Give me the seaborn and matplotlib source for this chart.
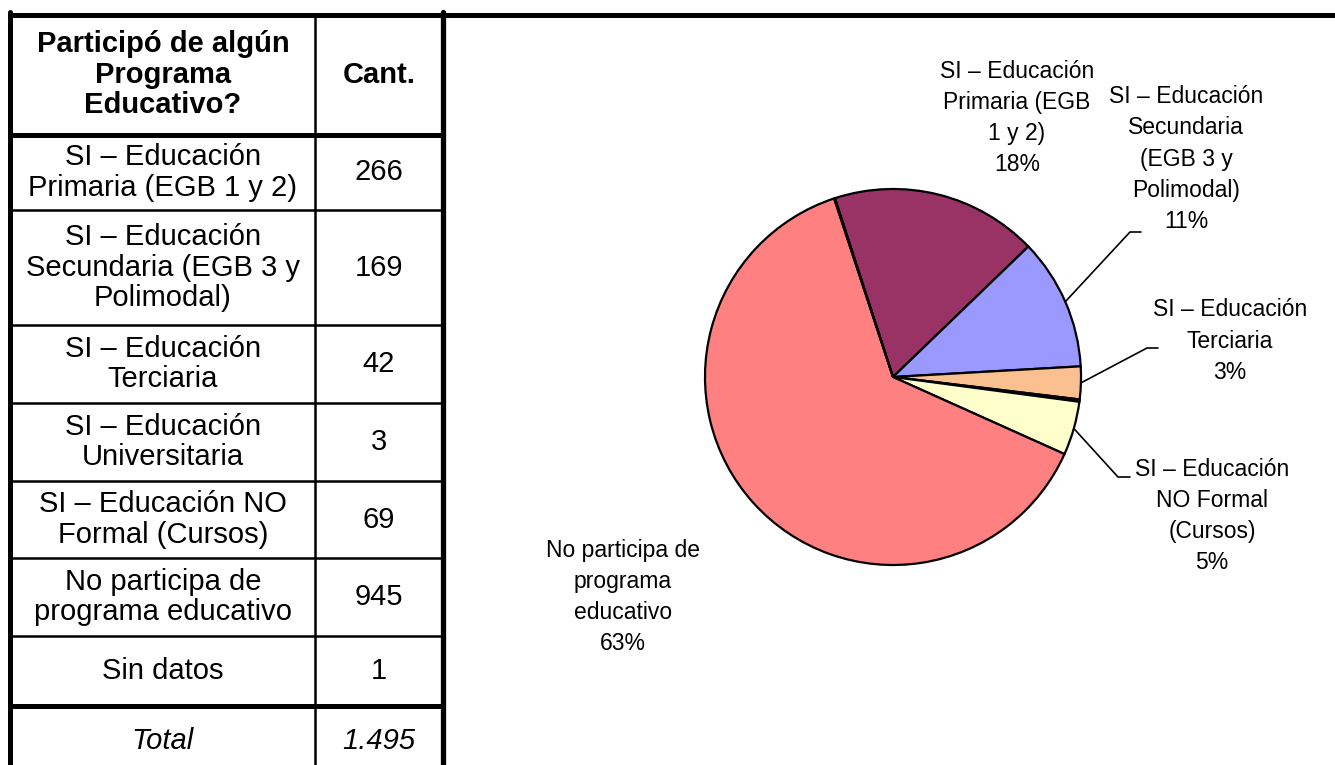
"""
Table + pie chart: participation in educational programmes.
"""

import matplotlib
matplotlib.use("Agg")
import numpy as np
import matplotlib.pyplot as plt
import seaborn as sns

# Data
table_labels = [
    "SI – Educación\nPrimaria (EGB 1 y 2)",
    "SI – Educación\nSecundaria (EGB 3 y\nPolimodal)",
    "SI – Educación\nTerciaria",
    "SI – Educación\nUniversitaria",
    "SI – Educación NO\nFormal (Cursos)",
    "No participa de\nprograma educativo",
    "Sin datos",
]
counts = [266, 169, 42, 3, 69, 945, 1]
pie_labels = [
    "SI – Educación\nPrimaria (EGB\n1 y 2)",
    "SI – Educación\nSecundaria\n(EGB 3 y\nPolimodal)",
    "SI – Educación\nTerciaria",
    None,
    "SI – Educación\nNO Formal\n(Cursos)",
    "No participa de\nprograma\neducativo",
    None,
]
slice_colors = ["#993366", "#9999FF", "#FAC090", "#CCFFFF",
                "#FFFFCC", "#FF8080", "#0066CC"]

header_left = "Participó de algún\nPrograma\nEducativo?"
header_right = "Cant."
total_label = "Total"

# Style
sns.set_theme(style="white")
plt.rcParams["font.family"] = ["Liberation Sans", "DejaVu Sans"]
plt.rcParams["text.color"] = "black"

W, H = 1335, 765
fig = plt.figure(figsize=(W / 100, H / 100), dpi=100)
ax = fig.add_axes([0, 0, 1, 1])


def fy(y):
    # pixel row (from top) -> data y
    return H - y


# Pie chart
total = sum(counts)
center = (893, fy(377))
radius = 188
wedges, _ = ax.pie(
    counts,
    colors=sns.color_palette(slice_colors),
    startangle=108,
    counterclock=False,
    center=center,
    radius=radius,
    wedgeprops=dict(edgecolor="black", linewidth=1.6),
)

# label centres (pixels from top) and leader elbows
label_pos = {0: (1017, 118), 1: (1186, 159), 2: (1230, 341),
             4: (1212, 516), 5: (623, 597)}
elbows = {1: ((1130, 232), (1141, 232)),
          2: ((1147, 348), (1158, 348)),
          4: ((1118, 477), (1130, 477))}

for i, lab in enumerate(pie_labels):
    if lab is None:
        continue
    pct = round(100 * counts[i] / total)
    x, y = label_pos[i]
    ax.text(x, fy(y), f"{lab}\n{pct}%", ha="center", va="center",
            fontsize=16.5, linespacing=1.45)
    if i in elbows:
        w = wedges[i]
        mid = np.deg2rad((w.theta1 + w.theta2) / 2)
        sx = center[0] + radius * np.cos(mid)
        sy = center[1] + radius * np.sin(mid)
        (ex, ey), (hx, hy) = elbows[i]
        ax.plot([sx, ex, hx], [sy, fy(ey), fy(hy)], color="black", lw=1.2)

# Table
row_edges = [14.5, 134.5, 210, 325, 403, 481, 558, 636, 705.5, 776]
thick_edges = {0, 1, 8}
x_left, x_mid, x_right = 9.5, 314.5, 443
col1 = (x_left + x_mid) / 2 + 1
col2 = (x_mid + x_right) / 2

for k, y in enumerate(row_edges[:-1]):
    lw = 3.6 if k in thick_edges else 1.8
    x_end = W if k == 0 else x_right
    ax.plot([x_left, x_end], [fy(y), fy(y)], color="black", lw=lw,
            solid_capstyle="projecting")

ax.plot([x_left, x_left], [fy(12), 0], color="black", lw=3.6)
ax.plot([x_mid, x_mid], [fy(14), 0], color="black", lw=1.8)
ax.plot([x_right, x_right], [fy(12), 0], color="black", lw=3.8)

mids = [(a + b) / 2 for a, b in zip(row_edges[:-1], row_edges[1:])]

ax.text(col1, fy(mids[0]), header_left, ha="center", va="center",
        fontsize=21, fontweight="bold", linespacing=1.12)
ax.text(col2, fy(mids[0]), header_right, ha="center", va="center",
        fontsize=21, fontweight="bold")

for i, (lab, n) in enumerate(zip(table_labels, counts)):
    ym = fy(mids[i + 1])
    ax.text(col1, ym, lab, ha="center", va="center", fontsize=21,
            linespacing=1.12)
    ax.text(col2, ym, str(n), ha="center", va="center", fontsize=21)

total_text = f"{total:,}".replace(",", ".")
ax.text(col1, fy(mids[-1]), total_label, ha="center", va="center",
        fontsize=21, style="italic")
ax.text(col2, fy(mids[-1]), total_text, ha="center", va="center",
        fontsize=21, style="italic")

ax.set_xlim(0, W)
ax.set_ylim(0, H)
ax.set_aspect("auto")
ax.axis("off")

fig.savefig("out.png", dpi=100)
plt.close(fig)
